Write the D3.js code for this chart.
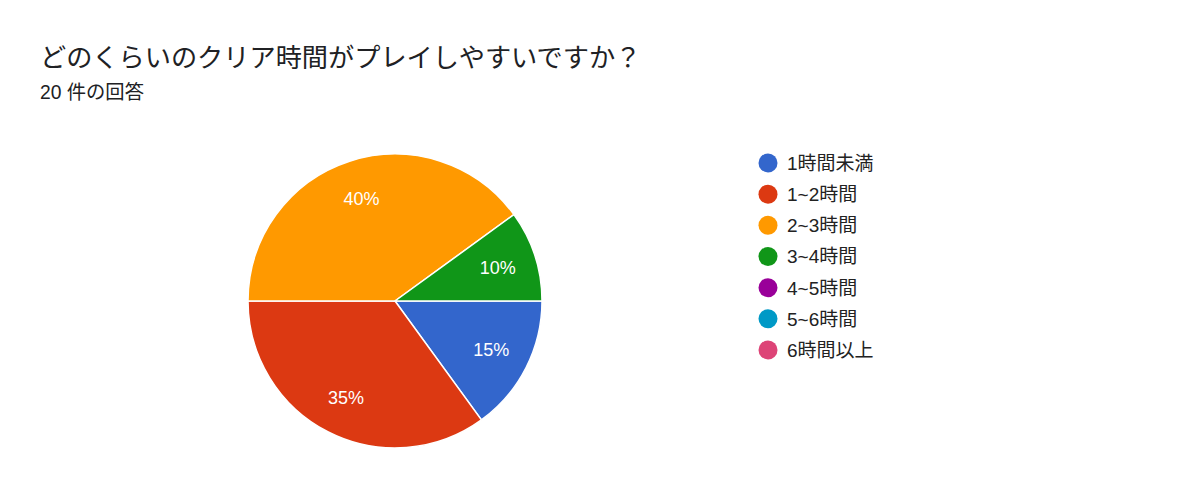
<!DOCTYPE html>
<html><head><meta charset="utf-8">
<script src="https://cdn.jsdelivr.net/npm/d3@7"></script>
<style>
html,body{margin:0;padding:0;background:#fff;}
svg{display:block;font-family:"Liberation Sans",Arial,"Noto Sans CJK JP",sans-serif;}
</style></head>
<body>
<svg id="chart" width="1200" height="504"></svg>
<script>
const title = "どのくらいのクリア時間がプレイしやすいですか？";
const subtitle = "20 件の回答";
const categories = ["1時間未満","1~2時間","2~3時間","3~4時間","4~5時間","5~6時間","6時間以上"];
const counts = [3, 7, 8, 2, 0, 0, 0];
const colors = ["#3366cc","#dc3912","#ff9900","#109618","#990099","#0099c6","#dd4477"];

const svg = d3.select("#chart");
svg.append("text").attr("x",40).attr("y",67).attr("font-size",26.2).attr("fill","#202124").text(title);
svg.append("text").attr("x",40).attr("y",99).attr("font-size",19.3).attr("fill","#202124").text(subtitle);

const data = categories.map((c,i)=>({cat:c,value:counts[i],color:colors[i]}));
const total = d3.sum(counts);
const cx = 395, cy = 301, r = 147;
const pie = d3.pie().sort(null).value(d=>d.value).startAngle(Math.PI/2).endAngle(Math.PI/2 + 2*Math.PI);
const arcs = pie(data).filter(d=>d.data.value>0);
const arc = d3.arc().innerRadius(0).outerRadius(r);
const labelArc = d3.arc().innerRadius(r*0.735).outerRadius(r*0.735);
const g = svg.append("g").attr("transform",`translate(${cx},${cy})`);
g.selectAll("path").data(arcs).join("path")
  .attr("d",arc).attr("fill",d=>d.data.color).attr("stroke","#fff").attr("stroke-width",1.5);
g.selectAll("text").data(arcs).join("text")
  .attr("transform",d=>`translate(${labelArc.centroid(d)})`)
  .attr("text-anchor","middle").attr("dy","0.35em")
  .attr("font-size",18).attr("fill","#fff")
  .text(d=>d3.format(".0%")(d.data.value/total));

const y = d3.scalePoint().domain(categories).range([163, 350]);
const leg = svg.append("g");
const rows = leg.selectAll("g").data(data).join("g").attr("transform",d=>`translate(768,${y(d.cat)})`);
rows.append("circle").attr("r",9.5).attr("fill",d=>d.color);
rows.append("text").attr("x",19).attr("dy","0.36em").attr("font-size",19).attr("fill","#222").text(d=>d.cat);
</script>
</body></html>
